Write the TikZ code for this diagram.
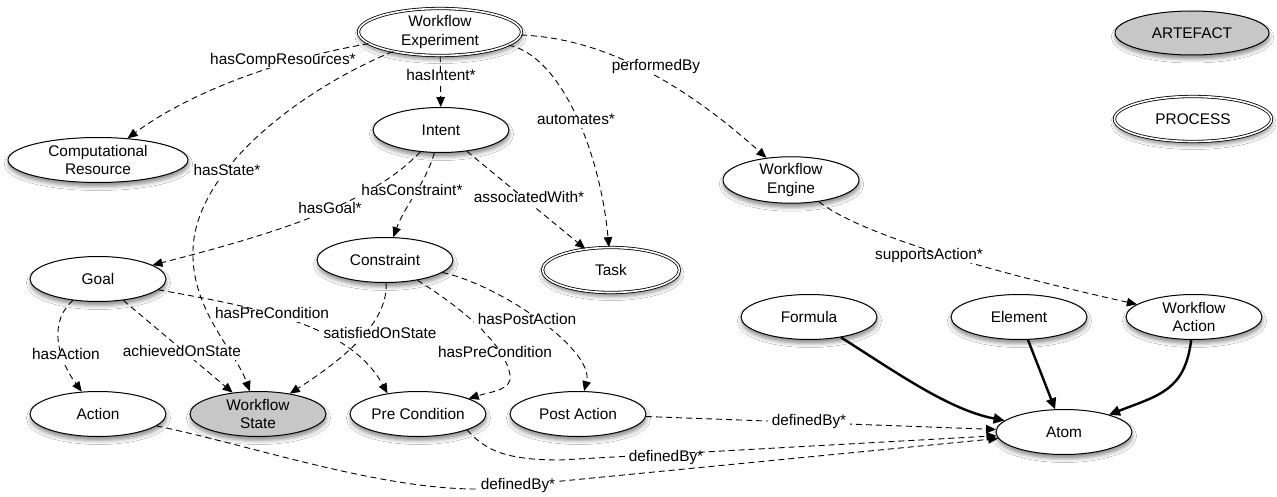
\documentclass[tikz,border=0pt]{standalone}
\usepackage{fontspec}
\setmainfont{Liberation Sans}
\usetikzlibrary{arrows.meta,shapes.geometric,shadows.blur}
\begin{document}
\begin{tikzpicture}[x=1pt,y=-1pt,
  ent/.style={ellipse, draw=black, line width=1pt, fill=white,
    minimum width=136pt, minimum height=45pt, inner sep=0pt, align=center,
    font=\fontsize{15.4}{18.5}\selectfont,
    blur shadow={shadow xshift=0.5pt, shadow yshift=-4pt, shadow blur radius=4pt, shadow opacity=45}},
  proc/.style={ent, double, double distance=1.6pt, line width=0.8pt},
  art/.style={ent, fill=black!22},
  rel/.style={draw=black, line width=0.9pt, dash pattern=on 6pt off 4pt,
    -{Triangle[length=10pt,width=8.5pt]}},
  strong/.style={draw=black, line width=2.4pt, -{Triangle[length=11pt,width=10pt]}},
  elbl/.style={fill=white, inner xsep=4pt, inner ysep=1.5pt, text height=0.75em, text depth=0.22em,
    font=\fontsize{15.4}{18.5}\selectfont},
]
\useasboundingbox (0,0) rectangle (1277,497);
\fill[white] (0,0) rectangle (1277,497);

% nodes
\node[proc, minimum width=163pt, minimum height=47pt] (WE) at (440,32) {Workflow\\Experiment};
\node[ent, minimum width=180pt] (CR) at (98,160) {Computational\\Resource};
\node[ent] (Intent) at (441,130) {Intent};
\node[ent] (WEng) at (791,180) {Workflow\\Engine};
\node[art, minimum width=154pt, minimum height=44pt] (Art) at (1192,33) {ARTEFACT};
\node[proc, minimum width=157pt, minimum height=45pt] (Proc) at (1193,119) {PROCESS};
\node[ent] (Constraint) at (385,260) {Constraint};
\node[proc, minimum width=137pt] (Task) at (611,270) {Task};
\node[ent] (Goal) at (98,279) {Goal};
\node[ent] (Formula) at (809,317) {Formula};
\node[ent] (Element) at (1019,317) {Element};
\node[ent] (WAct) at (1194,317) {Workflow\\Action};
\node[ent] (Action) at (98,414) {Action};
\node[art] (WS) at (258,414) {Workflow\\State};
\node[ent] (Pre) at (418,414) {Pre Condition};
\node[ent] (Post) at (578,414) {Post Action};
\node[ent] (Atom) at (1064,432) {Atom};

% waypoints
\coordinate (hs) at (193,250);
\coordinate (hp) at (510,375);
\coordinate (dp) at (560,460);
\coordinate (da) at (480,489);

% connectors
\draw[rel] (WE) .. controls (300,55) and (200,85) .. (CR);
\draw[rel] (WE) .. controls (300,90) and (195,170) .. (hs) .. controls (191,310) and (235,350) .. (WS);
\draw[rel] (WE) -- (Intent);
\draw[rel] (WE) .. controls (600,38) and (680,80) .. (WEng);
\draw[rel] (WE) .. controls (560,55) and (600,150) .. (Task);
\draw[rel] (Intent) .. controls (370,205) and (270,235) .. (Goal);
\draw[rel] (Intent) .. controls (425,185) and (405,205) .. (Constraint);
\draw[rel] (Intent) -- (Task);
\draw[rel] (WEng) .. controls (855,230) and (960,265) .. (WAct);
\draw[rel] (Constraint) .. controls (388,320) and (350,355) .. (WS);
\draw[rel] (Constraint) .. controls (465,310) and (505,345) .. (hp) .. controls (513,390) and (490,392) .. (Pre);
\draw[rel] (Constraint) .. controls (500,285) and (595,350) .. (Post);
\draw[rel] (Goal) .. controls (50,320) and (55,355) .. (Action);
\draw[rel] (Goal) -- (WS);
\draw[rel] (Goal) .. controls (260,308) and (350,325) .. (Pre.146);
\draw[rel] (Post) -- (Atom);
\draw[rel] (Pre.342) .. controls (485,450) and (505,460) .. (dp) -- (Atom);
\draw[rel] (Action) .. controls (250,445) and (380,490) .. (da) -- (Atom);
\draw[strong] (Formula) .. controls (900,375) and (950,410) .. (Atom);
\draw[strong] (Element) -- (Atom);
\draw[strong] (WAct) .. controls (1185,390) and (1160,395) .. (Atom);

% connector labels
\node[elbl] (L1) at (283,62) {hasCompResources*};
\node[elbl] (L2) at (227,173) {hasState*};
\node[elbl] (L3) at (441,78) {hasIntent*};
\node[elbl] (L4) at (656,68) {performedBy};
\node[elbl] (L5) at (576,122) {automates*};
\node[elbl] (L6) at (330,211) {hasGoal*};
\node[elbl] (L7) at (412,193) {hasConstraint*};
\node[elbl] (L8) at (529,200) {associatedWith*};
\node[elbl] (L9) at (929,257) {supportsAction*};
\node[elbl] (L10) at (272,316) {hasPreCondition};
\node[elbl] (L11) at (380,336) {satisfiedOnState};
\node[elbl] (L12) at (527,322) {hasPostAction};
\node[elbl] (L13) at (495,355) {hasPreCondition};
\node[elbl] (L14) at (66,357) {hasAction};
\node[elbl] (L15) at (182,354) {achievedOnState};
\node[elbl] (L16) at (809,423) {definedBy*};
\node[elbl] (L17) at (666,459) {definedBy*};
\node[elbl] (L18) at (518,487) {definedBy*};
\end{tikzpicture}
\end{document}
